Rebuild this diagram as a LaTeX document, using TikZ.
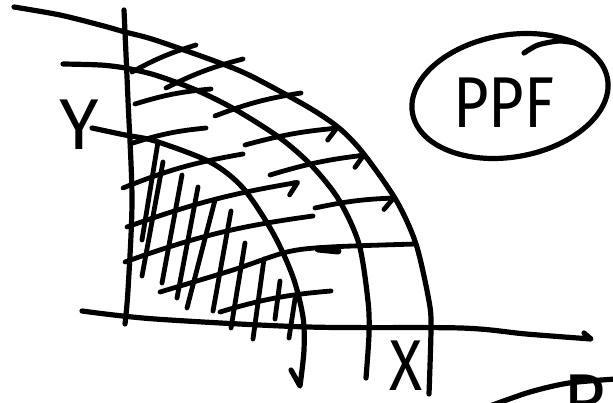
\documentclass[tikz,border=0pt]{standalone}
\usepackage{fontspec}
\setsansfont{Fira Sans}
\usetikzlibrary{arrows.meta}
\tikzset{
  pen/.style={line width=5.2pt, line cap=round, line join=round},
  hatch/.style={pen, line width=4.8pt},
  harpoon/.style={hatch, -{Straight Barb[right, round, length=10pt, width=22pt]}},
  handtext/.style={font=\sffamily\fontsize{72}{72}\selectfont, inner sep=0pt}
}
\begin{document}
\begin{tikzpicture}[x=1pt, y=-1pt]
  \useasboundingbox (0,0) rectangle (613,403);
  \clip (0,0) rectangle (613,403);

  % axes
  \draw[pen] plot[smooth] coordinates {(124,10) (128,100) (132,200) (128,290) (125,324)};
  \draw[pen] plot[smooth] coordinates {(82,311) (155,319) (308,327) (461,328) (526,334) (591,339)} -- (584,333);

  % the three frontiers
  \draw[pen] plot[smooth] coordinates {(14,7) (60,15) (100,25) (125,32) (155,40) (220,63) (253,77) (308,107) (339,128) (363,153) (396,200) (416,244) (429,301) (431,328) (429,394)};
  \draw[pen] plot[smooth] coordinates {(63,64) (100,65) (125,68) (155,75) (196,90) (236,110) (280,138) (312,166) (339,200) (359,244) (368,301) (369,334) (366,378)};
  \draw[pen] plot[smooth] coordinates {(92,128) (125,135) (155,141) (210,162) (243,188) (273,233) (293,277) (303,317) (304,350) (300,386)} -- (291,370);

  % rightward strokes
  \foreach \xa/\ya/\xb/\yb in {132/72/196/45, 166/88/243/59, 135/104/211/89, 215/116/301/93,
      133/143/206/128, 123/188/243/154, 125/262/313/216, 220/312/331/291}
    \draw[hatch] (\xa,\ya) to[bend left=6] (\xb,\yb);
  \foreach \xa/\ya/\xb/\yb in {245/145/339/128, 270/175/366/155, 127/227/300/182, 315/208/396/198}
    \draw[harpoon] (\xa,\ya) to[bend left=5] (\xb,\yb);
  \draw[hatch] plot[smooth] coordinates {(160,292) (233,270) (287,252) (330,247) (416,244)};
  \draw[pen, line width=7pt] (318,249) -- (338,251);

  % downward strokes in the inner area
  \foreach \xa/\ya/\xb/\yb in {158/142/142/240, 163/162/142/276, 182/175/162/283, 198/187/177/298,
      215/200/187/308, 231/211/213/311, 245/243/231/328, 264/259/253/339, 280/281/275/319, 295/299/289/338}
    \draw[hatch] (\xa,\ya) -- (\xb,\yb);

  % labels
  \node[handtext] (ylab) at (79,125) {Y};
  \node[handtext, xscale=0.85] (xlab) at (406,366) {X};
  \node[handtext, xscale=0.85] (ppf) at (504,103) {PPF};
  \draw[pen] (510,96) ellipse [x radius=99, y radius=61, rotate=10];
  \draw[pen] plot[smooth] coordinates {(524,53) (538,45) (559,41) (575,43)};

  % next sketch, cut off at the corner
  \draw[pen] plot[smooth] coordinates {(490,406) (530,392) (569,383) (616,379)};
  \node[handtext, anchor=north west] (nxt) at (563,375) {P};
\end{tikzpicture}
\end{document}
